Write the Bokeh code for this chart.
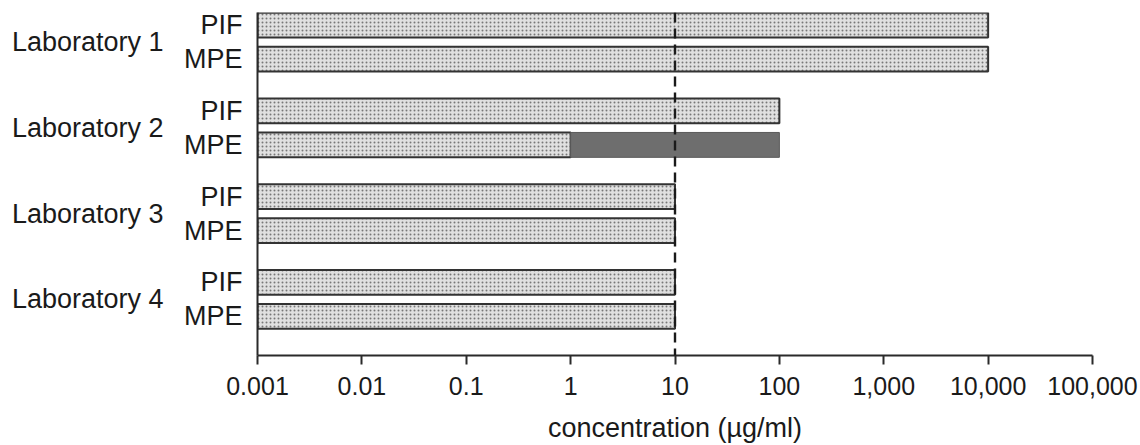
from bokeh.plotting import figure
from bokeh.models import Range1d, FixedTicker, LinearAxis, Span
from bokeh.embed import file_html
from bokeh.resources import INLINE

# ---------------- data ----------------
labs = ["Laboratory 1", "Laboratory 2", "Laboratory 3", "Laboratory 4"]
series = ["PIF", "MPE"]
pif = [10000, 100, 10, 10]          # PIF bar end (µg/ml)
mpe = [10000, 1, 10, 10]            # MPE light bar end (µg/ml)
mpe_upper = [None, 100, None, None]  # MPE dark extension end (µg/ml)
x_start = 0.001
threshold = 10
tick_values = [0.001, 0.01, 0.1, 1, 10, 100, 1000, 10000, 100000]
tick_labels = ["0.001", "0.01", "0.1", "1", "10", "100", "1,000", "10,000", "100,000"]
x_title = "concentration (µg/ml)"

# ---------------- layout ----------------
GROUP_OFFSET = 0.346
SUB = 0.198
BAR_H = 0.29
FONT = "Liberation Sans"
TXT = "#1a1a1a"

group_y = [i + GROUP_OFFSET for i in range(len(labs))]
pif_y = [g - SUB for g in group_y]
mpe_y = [g + SUB for g in group_y]

p = figure(width=1140, height=445, x_axis_type="log",
           x_range=Range1d(tick_values[0], tick_values[-1]),
           y_range=Range1d(4.0, 0.0),
           output_backend="svg", toolbar_location=None,
           min_border_left=257, min_border_right=48,
           min_border_top=12, min_border_bottom=89)
p.outline_line_color = None
p.xgrid.visible = False
p.ygrid.visible = False
p.background_fill_color = "white"
p.border_fill_color = "white"

light = "#e0e0e0"
edge = "#333333"
stip = dict(hatch_pattern="dot", hatch_color="#777777", hatch_scale=4, hatch_weight=1)

p.hbar(y=pif_y, left=x_start, right=pif, height=BAR_H,
       fill_color=light, line_color=edge, line_width=2, **stip)
p.hbar(y=mpe_y, left=x_start, right=mpe, height=BAR_H,
       fill_color=light, line_color=edge, line_width=2, **stip)
ext_y = [y for y, u in zip(mpe_y, mpe_upper) if u is not None]
ext_l = [m for m, u in zip(mpe, mpe_upper) if u is not None]
ext_r = [u for u in mpe_upper if u is not None]
p.hbar(y=ext_y, left=ext_l, right=ext_r, height=BAR_H,
       fill_color="#6e6e6e", line_color="#5a5a5a", line_width=1)

p.add_layout(Span(location=threshold, dimension="height", line_color="#1a1a1a",
                  line_width=2.4, line_dash="10 6"))

# x axis
xa = p.xaxis[0]
xa.ticker = FixedTicker(ticks=tick_values)
xa.major_label_overrides = {v: l for v, l in zip(tick_values, tick_labels)}
xa.minor_tick_line_color = None
xa.axis_line_width = 2
xa.axis_line_color = "#2a2a2a"
xa.major_tick_line_width = 2
xa.major_tick_line_color = "#2a2a2a"
xa.major_tick_out = 9
xa.major_tick_in = 0
xa.major_label_standoff = 12
xa.major_label_text_font = FONT
xa.major_label_text_font_size = "25px"
xa.major_label_text_color = TXT
xa.axis_label = x_title
xa.axis_label_text_font = FONT
xa.axis_label_text_font_size = "27px"
xa.axis_label_text_font_style = "normal"
xa.axis_label_text_color = TXT
xa.axis_label_standoff = 15

# inner y axis (PIF / MPE)
ya = p.yaxis[0]
ya.ticker = FixedTicker(ticks=pif_y + mpe_y)
ov = {}
for y in pif_y:
    ov[y] = series[0]
for y in mpe_y:
    ov[y] = series[1]
ya.major_label_overrides = ov
ya.major_tick_line_color = None
ya.minor_tick_line_color = None
ya.major_tick_out = 0
ya.major_tick_in = 0
ya.axis_line_width = 2
ya.axis_line_color = "#2a2a2a"
ya.major_label_standoff = 15
ya.major_label_text_font = FONT
ya.major_label_text_font_size = "27px"
ya.major_label_text_color = TXT

# outer y axis (Laboratory)
outer = LinearAxis(ticker=FixedTicker(ticks=group_y),
                   major_label_overrides={g: l for g, l in zip(group_y, labs)})
outer.axis_line_color = None
outer.major_tick_line_color = None
outer.minor_tick_line_color = None
outer.major_tick_out = 0
outer.major_tick_in = 0
outer.major_label_standoff = 17
outer.major_label_text_font = FONT
outer.major_label_text_font_size = "27px"
outer.major_label_text_color = TXT
p.add_layout(outer, "left")

open("out.html", "w").write(file_html(p, INLINE))
